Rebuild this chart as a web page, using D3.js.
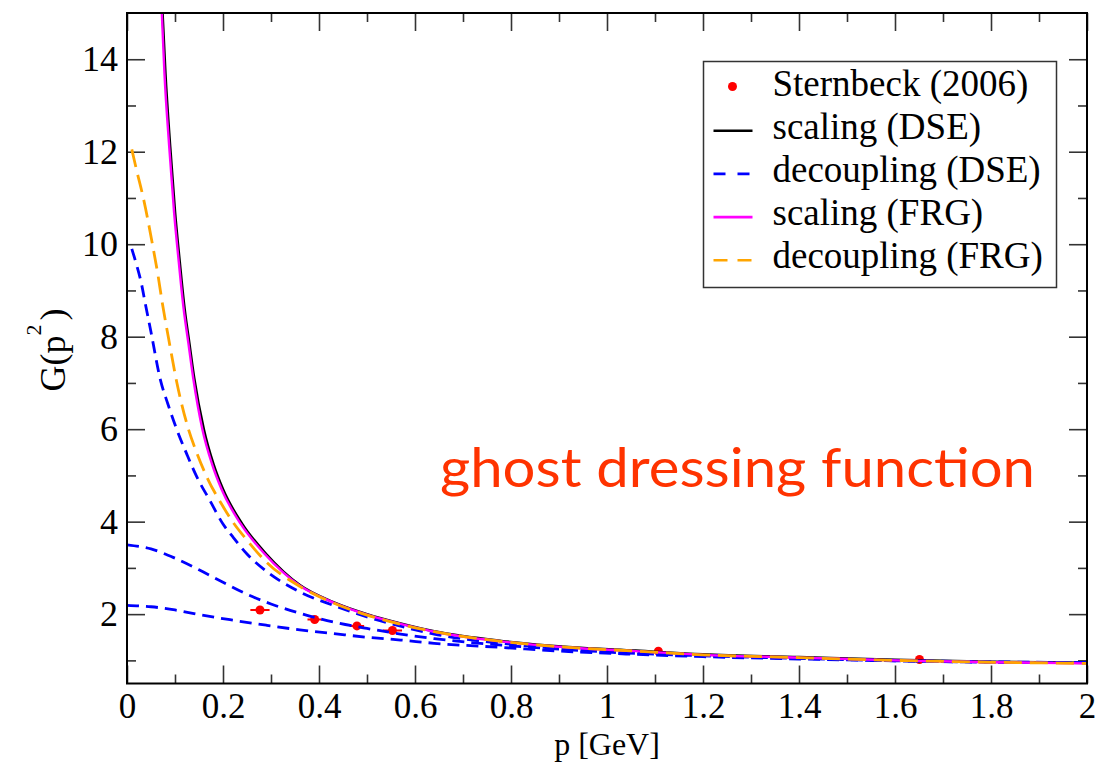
<!DOCTYPE html>
<html>
<head>
<meta charset="utf-8">
<script src="https://d3js.org/d3.v7.min.js"></script>
<style>
  body { margin: 0; background: #fff; }
  text { font-family: "Liberation Serif", "Times New Roman", serif; }
</style>
</head>
<body>
<div id="my_dataviz"></div>
<script>
// tick values
const xMajor = [0, 0.2, 0.4, 0.6, 0.8, 1, 1.2, 1.4, 1.6, 1.8, 2];
const xMinor = [0.1, 0.3, 0.5, 0.7, 0.9, 1.1, 1.3, 1.5, 1.7, 1.9];
const yMajor = [2, 4, 6, 8, 10, 12, 14];
const yMinor = [1, 3, 5, 7, 9, 11, 13];

// lattice data (Sternbeck 2006)
const latP = [0.277, 0.391, 0.479, 0.553, 1.107, 1.651];
const latG = [2.09, 1.885, 1.746, 1.645, 1.20, 1.02];
const latErr = [0.02, 0.015, 0.015, 0.02, 0.005, 0.005];

// scaling (DSE)
const scalDseP = [0.074, 0.08, 0.09, 0.1, 0.11, 0.12, 0.13, 0.14, 0.16, 0.18, 0.2, 0.24, 0.29, 0.36, 0.43, 0.5, 0.57, 0.64, 0.78, 0.92, 1.06, 1.2, 1.4, 1.6, 1.8, 2.0];
const scalDseG = [15.0, 13.7, 12.1, 10.7, 9.6, 8.6, 7.85, 7.1, 6.0, 5.25, 4.7, 3.95, 3.3, 2.63, 2.26, 2.0, 1.8, 1.63, 1.42, 1.29, 1.21, 1.13, 1.07, 1.01, 0.97, 0.945];

// scaling (FRG)
const scalFrgP = [0.0725, 0.078, 0.088, 0.098, 0.108, 0.118, 0.128, 0.138, 0.157, 0.177, 0.197, 0.237, 0.287, 0.358, 0.43, 0.5, 0.57, 0.64, 0.78, 0.92, 1.06, 1.2, 1.4, 1.6, 1.8, 2.0];
const scalFrgG = [15.0, 13.7, 12.1, 10.7, 9.6, 8.6, 7.85, 7.1, 6.0, 5.25, 4.7, 3.95, 3.3, 2.63, 2.25, 1.99, 1.79, 1.62, 1.41, 1.28, 1.2, 1.12, 1.06, 1.0, 0.96, 0.935];

// decoupling (FRG)
const decFrgP = [0.01, 0.02, 0.034, 0.053, 0.065, 0.074, 0.086, 0.104, 0.128, 0.145, 0.167, 0.197, 0.22, 0.25, 0.29, 0.36, 0.43, 0.5, 0.57, 0.64, 0.78, 0.92, 1.06, 1.2, 1.4, 1.6, 1.8, 2.0];
const decFrgG = [12.05, 11.6, 11.0, 10.0, 9.3, 8.7, 8.0, 7.0, 6.0, 5.5, 4.95, 4.38, 4.0, 3.6, 3.13, 2.6, 2.24, 1.98, 1.78, 1.62, 1.41, 1.28, 1.2, 1.12, 1.06, 1.0, 0.96, 0.935];

// decoupling (DSE), three solutions
const decDse1P = [0.01, 0.02, 0.03, 0.0375, 0.05, 0.07, 0.085, 0.1035, 0.125, 0.144, 0.173, 0.2, 0.222, 0.25, 0.29, 0.36, 0.43, 0.5, 0.57, 0.64, 0.78, 0.92, 1.06, 1.2, 1.4, 1.6, 1.8, 2.0];
const decDse1G = [9.9, 9.55, 9.15, 8.75, 8.1, 7.05, 6.55, 6.0, 5.45, 5.0, 4.45, 3.95, 3.65, 3.3, 2.93, 2.48, 2.19, 1.94, 1.74, 1.57, 1.37, 1.24, 1.16, 1.11, 1.05, 1.0, 0.97, 0.95];

const decDse2P = [0, 0.05, 0.1, 0.15, 0.2, 0.25, 0.3, 0.36, 0.43, 0.5, 0.57, 0.64, 0.78, 0.92, 1.06, 1.2, 1.4, 1.6, 1.8, 2.0];
const decDse2G = [3.5, 3.41, 3.21, 2.96, 2.69, 2.43, 2.22, 2.02, 1.83, 1.69, 1.57, 1.47, 1.33, 1.23, 1.15, 1.10, 1.04, 0.99, 0.96, 0.95];

const decDse3P = [0, 0.05, 0.1, 0.15, 0.22, 0.29, 0.36, 0.43, 0.5, 0.57, 0.64, 0.78, 0.92, 1.06, 1.2, 1.4, 1.6, 1.8, 2.0];
const decDse3G = [2.19, 2.16, 2.09, 1.99, 1.87, 1.76, 1.66, 1.58, 1.50, 1.44, 1.37, 1.28, 1.19, 1.13, 1.08, 1.03, 0.99, 0.96, 0.95];

// set the dimensions and margins of the graph
const margin = { top: 13, right: 29, bottom: 79.5, left: 127 },
    width = 1116 - margin.left - margin.right,
    height = 763 - margin.top - margin.bottom;

const svg = d3.select("#my_dataviz")
    .append("svg")
    .attr("width", width + margin.left + margin.right)
    .attr("height", height + margin.top + margin.bottom)
    .append("g")
    .attr("transform", `translate(${margin.left}, ${margin.top})`);

const x = d3.scaleLinear().domain([0, 2]).range([0, width]);
const y = d3.scaleLinear().domain([0.5, 15]).range([height, 0]);

const fontSize = "36px";

// axes with inward ticks
function styleAxis(g, size) {
    g.select(".domain").remove();
    g.selectAll(".tick line").attr("stroke", "#333").attr("stroke-width", 1.6);
    g.attr("font-family", null).attr("font-size", null);
    g.selectAll("text").style("font-size", size || fontSize).attr("fill", "#000");
}

svg.append("g")
    .attr("transform", `translate(0, ${height})`)
    .call(d3.axisBottom(x).tickValues(xMajor).tickSize(-18).tickSizeOuter(0).tickPadding(10).tickFormat(d => d))
    .call(styleAxis, "35px");
svg.append("g")
    .attr("transform", `translate(0, ${height})`)
    .call(d3.axisBottom(x).tickValues(xMinor).tickSize(-9).tickSizeOuter(0).tickFormat(""))
    .call(styleAxis);
svg.append("g")
    .call(d3.axisTop(x).tickValues(xMajor).tickSize(-18).tickSizeOuter(0).tickFormat(""))
    .call(styleAxis);
svg.append("g")
    .call(d3.axisTop(x).tickValues(xMinor).tickSize(-9).tickSizeOuter(0).tickFormat(""))
    .call(styleAxis);

svg.append("g")
    .call(d3.axisLeft(y).tickValues(yMajor).tickSize(-18).tickSizeOuter(0).tickPadding(9).tickFormat(d => d))
    .call(styleAxis);
svg.append("g")
    .call(d3.axisLeft(y).tickValues(yMinor).tickSize(-9).tickSizeOuter(0).tickFormat(""))
    .call(styleAxis);
svg.append("g")
    .attr("transform", `translate(${width}, 0)`)
    .call(d3.axisRight(y).tickValues(yMajor).tickSize(-18).tickSizeOuter(0).tickFormat(""))
    .call(styleAxis);
svg.append("g")
    .attr("transform", `translate(${width}, 0)`)
    .call(d3.axisRight(y).tickValues(yMinor).tickSize(-9).tickSizeOuter(0).tickFormat(""))
    .call(styleAxis);

// clip for curves
svg.append("clipPath").attr("id", "plotclip")
    .append("rect").attr("width", width).attr("height", height);

const plot = svg.append("g").attr("clip-path", "url(#plotclip)");

// lattice points (under the curves)
const lat = latP.map((p, i) => ({ p: p, g: latG[i], e: latErr[i] }));
plot.selectAll(".errbar")
    .data(lat)
    .join("line")
    .attr("x1", d => x(d.p - d.e))
    .attr("x2", d => x(d.p + d.e))
    .attr("y1", d => y(d.g))
    .attr("y2", d => y(d.g))
    .attr("stroke", "#ff0000")
    .attr("stroke-width", 2);
plot.selectAll(".latpt")
    .data(lat)
    .join("circle")
    .attr("cx", d => x(d.p))
    .attr("cy", d => y(d.g))
    .attr("r", 4.5)
    .attr("fill", "#ff0000");

const line = d3.line()
    .x(d => x(d[0]))
    .y(d => y(d[1]))
    .curve(d3.curveMonotoneX);

const series = [
    { P: scalDseP, G: scalDseG, color: "#000000", w: 2.6, dash: null },
    { P: decDse1P, G: decDse1G, color: "#0000ff", w: 2.8, dash: "12,7" },
    { P: decDse2P, G: decDse2G, color: "#0000ff", w: 2.8, dash: "12,7" },
    { P: decDse3P, G: decDse3G, color: "#0000ff", w: 2.8, dash: "12,7" },
    { P: scalFrgP, G: scalFrgG, color: "#ff00ff", w: 2.4, dash: null },
    { P: decFrgP, G: decFrgG, color: "#ffa500", w: 2.8, dash: "18,8" }
];

series.forEach(s => {
    plot.append("path")
        .datum(s.P.map((p, i) => [p, s.G[i]]))
        .attr("d", line)
        .attr("fill", "none")
        .attr("stroke", s.color)
        .attr("stroke-width", s.w)
        .attr("stroke-dasharray", s.dash);
});

// frame
svg.append("rect")
    .attr("width", width)
    .attr("height", height)
    .attr("fill", "none")
    .attr("stroke", "#000")
    .attr("stroke-width", 2);

// axis titles
svg.append("text")
    .attr("x", x(1))
    .attr("y", height + 71.5)
    .attr("text-anchor", "middle")
    .style("font-size", "32px")
    .text("p [GeV]");

const ylab = svg.append("text")
    .attr("transform", `translate(${65 - margin.left}, ${350 - margin.top}) rotate(-90)`)
    .attr("text-anchor", "middle")
    .style("font-size", fontSize);
ylab.append("tspan").text("G(p");
ylab.append("tspan").attr("dy", -24).style("font-size", "22px").text("2");
ylab.append("tspan").attr("dy", 24).attr("dx", 4).text(")");

// annotation
svg.append("text")
    .attr("x", 440 - margin.left)
    .attr("y", 487 - margin.top)
    .attr("fill", "#ff3300")
    .attr("textLength", 595)
    .attr("lengthAdjust", "spacingAndGlyphs")
    .style("font-family", "Lato, 'Open Sans', sans-serif")
    .style("font-size", "55px")
    .text("ghost dressing function");

// legend
const legX = 703.5 - margin.left, legY = 61.5 - margin.top;
const legend = svg.append("g").attr("transform", `translate(${legX}, ${legY})`);
legend.append("rect")
    .attr("width", 353)
    .attr("height", 226)
    .attr("fill", "#fff")
    .attr("stroke", "#333")
    .attr("stroke-width", 1.5);

const legItems = [
    { label: "Sternbeck (2006)", color: "#ff0000", type: "dot" },
    { label: "scaling (DSE)", color: "#000000", type: "line", dash: null },
    { label: "decoupling (DSE)", color: "#0000ff", type: "line", dash: "12,12" },
    { label: "scaling (FRG)", color: "#ff00ff", type: "line", dash: null },
    { label: "decoupling (FRG)", color: "#ffa500", type: "line", dash: "14,10" }
];

legItems.forEach((d, i) => {
    const row = legend.append("g").attr("transform", `translate(0, ${34 + i * 43.2})`);
    if (d.type === "dot") {
        row.append("circle").attr("cx", 29).attr("cy", -9).attr("r", 4.5).attr("fill", d.color);
    } else {
        row.append("line")
            .attr("x1", 10).attr("x2", 49)
            .attr("y1", -8).attr("y2", -8)
            .attr("stroke", d.color)
            .attr("stroke-width", 2.6)
            .attr("stroke-dasharray", d.dash);
    }
    row.append("text")
        .attr("x", 69)
        .attr("y", 0)
        .style("font-size", "37px")
        .text(d.label);
});
</script>
</body>
</html>
